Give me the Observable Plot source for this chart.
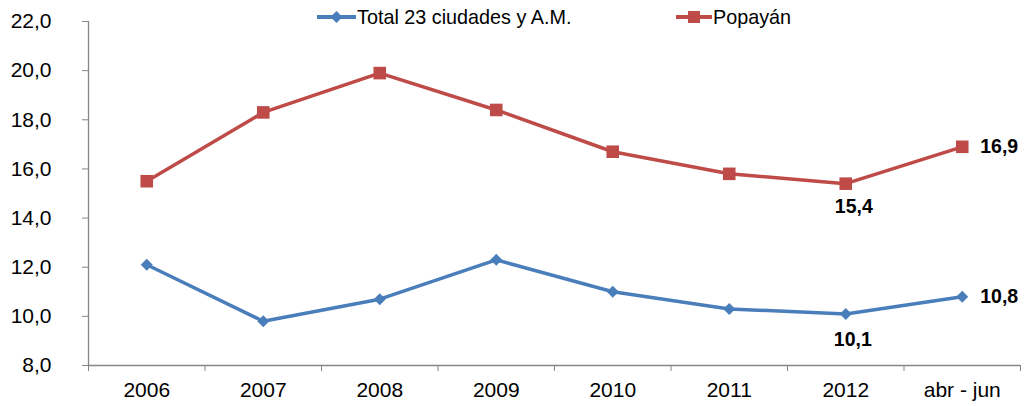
<!DOCTYPE html>
<html><head><meta charset="utf-8">
<script src="https://cdn.jsdelivr.net/npm/d3@7"></script>
<script src="https://cdn.jsdelivr.net/npm/@observablehq/plot@0.6"></script>
<style>
body{margin:0;background:#fff;font-family:"Liberation Sans",Arial,sans-serif}
#wrap{position:relative;width:1024px;height:406px}
.leg{position:absolute;top:5px;display:flex;align-items:center;font-size:19.8px;line-height:24px;color:#000;white-space:nowrap}
.leg svg{margin-right:1px}
</style></head>
<body><div id="wrap"></div>
<script>
const categories = ["2006","2007","2008","2009","2010","2011","2012","abr - jun"];
const total = [12.1, 9.8, 10.7, 12.3, 11.0, 10.3, 10.1, 10.8];
const popayan = [15.5, 18.3, 19.9, 18.4, 16.7, 15.8, 15.4, 16.9];
const seriesNames = ["Total 23 ciudades y A.M.", "Popayán"];
const colors = ["#4a7ebb", "#be4b48"];
const yTicks = [8, 10, 12, 14, 16, 18, 20, 22];

const fmt = d => d.toFixed(1).replace(".", ",");
const rows = [];
categories.forEach((c, i) => {
  rows.push({cat: c, i: i + 0.5, v: total[i], s: seriesNames[0]});
  rows.push({cat: c, i: i + 0.5, v: popayan[i], s: seriesNames[1]});
});
const tData = rows.filter(d => d.s === seriesNames[0]);
const pData = rows.filter(d => d.s === seriesNames[1]);
const n = categories.length;
const lastIdx = n - 1, lowIdx = n - 2;

const plot = Plot.plot({
  width: 1024, height: 406,
  marginLeft: 88, marginRight: 4, marginTop: 21, marginBottom: 41,
  style: {fontFamily: '"Liberation Sans", Arial, sans-serif', fontSize: "21px", color: "#000", background: "#fff"},
  x: {type: "linear", domain: [0, n]},
  y: {domain: [8, 22]},
  marks: [
    Plot.ruleX([0], {y1: 8, y2: 22, stroke: "#868686", strokeWidth: 1.3}),
    Plot.ruleY([8], {stroke: "#868686", strokeWidth: 1.3}),
    Plot.axisY({ticks: yTicks, tickFormat: fmt, tickSize: 6, tickPadding: 31, stroke: "#868686", label: null, fontSize: 21, fill: "#000"}),
    Plot.axisX({ticks: d3.range(n + 1), tickFormat: () => "", tickSize: 6, stroke: "#868686", label: null}),
    Plot.axisX({ticks: d3.range(n).map(i => i + 0.5), tickFormat: (d) => categories[Math.floor(d)], tickSize: 0, tickPadding: 17, label: null, fontSize: 21, fill: "#000"}),
    Plot.line(pData, {x: "i", y: "v", stroke: colors[1], strokeWidth: 3.5}),
    Plot.line(tData, {x: "i", y: "v", stroke: colors[0], strokeWidth: 3.5}),
    Plot.dot(pData, {x: "i", y: "v", symbol: "square", r: 7.1, fill: colors[1], stroke: null}),
    Plot.dot(tData, {x: "i", y: "v", symbol: "diamond2", r: 5.4, fill: colors[0], stroke: null}),
    Plot.text([pData[lastIdx], tData[lastIdx]], {x: "i", y: "v", text: d => fmt(d.v), textAnchor: "start", dx: 18, fontWeight: "bold", fontSize: 19.5, fill: "#000"}),
    Plot.text([pData[lowIdx]], {x: "i", y: "v", text: d => fmt(d.v), dx: 8, dy: 23, fontWeight: "bold", fontSize: 19.5, fill: "#000"}),
    Plot.text([tData[lowIdx]], {x: "i", y: "v", text: d => fmt(d.v), dx: 7, dy: 26, fontWeight: "bold", fontSize: 19.5, fill: "#000"})
  ]
});
const wrap = document.getElementById("wrap");
wrap.appendChild(plot);

function legendItem(name, color, symbol, left, w) {
  const div = document.createElement("div");
  div.className = "leg";
  div.style.left = left + "px";
  const sym = symbol === "diamond"
    ? `<path d="M${w/2} 16 L${w/2+6} 22 L${w/2} 28 L${w/2-6} 22 Z" fill="${color}"/>`
    : `<rect x="${w/2-6}" y="16" width="12" height="12" fill="${color}"/>`;
  div.innerHTML = `<svg width="${w}" height="22" viewBox="0 11 ${w} 22"><line x1="0" x2="${w}" y1="22" y2="22" stroke="${color}" stroke-width="4"/>${sym}</svg><span>${name}</span>`;
  wrap.appendChild(div);
}
legendItem(seriesNames[0], colors[0], "diamond", 317, 39);
legendItem(seriesNames[1], colors[1], "square", 676, 36);
</script></body></html>
